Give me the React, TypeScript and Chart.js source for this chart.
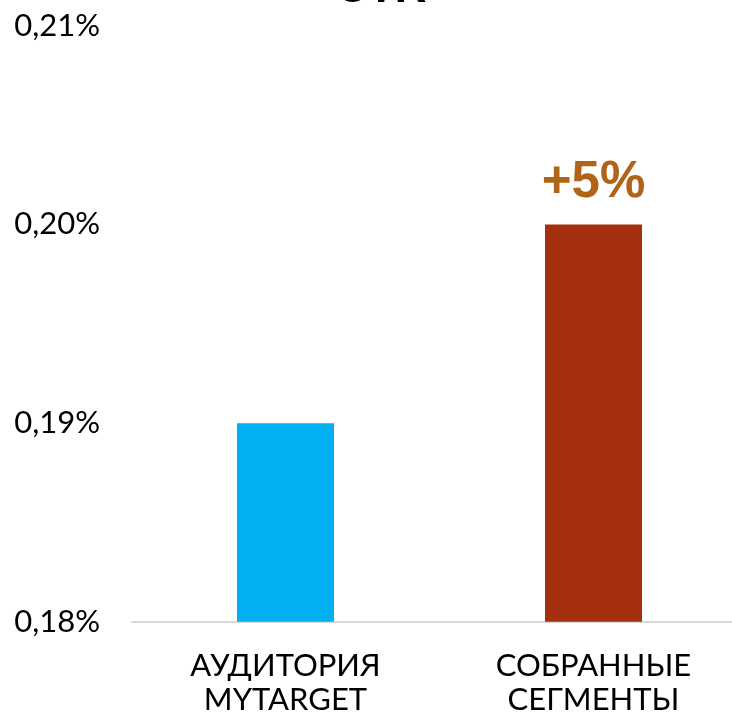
import React, { useEffect, useRef } from "react";
import { Chart, registerables } from "chart.js";

Chart.register(...registerables);

const categories: string[][] = [
  ["АУДИТОРИЯ", "MYTARGET"],
  ["СОБРАННЫЕ", "СЕГМЕНТЫ"],
];
const ctrValues: number[] = [0.19, 0.2];
const barColors: string[] = ["#00B0F0", "#A5300F"];
const barAnnotations: string[] = ["", "+5%"];
const yTickValues: number[] = [0.18, 0.19, 0.2, 0.21];
const titleText = "CTR";

const annotationPlugin = {
  id: "barAnnotations",
  afterDatasetsDraw(chart: any) {
    const meta = chart.getDatasetMeta(0);
    const ctx = chart.ctx;
    ctx.save();
    ctx.font = "bold 51px 'Liberation Sans', Arial, sans-serif";
    ctx.fillStyle = "#AF6418";
    ctx.textAlign = "center";
    ctx.textBaseline = "alphabetic";
    meta.data.forEach((el: any, i: number) => {
      const t = barAnnotations[i];
      if (t) ctx.fillText(t, el.x, el.y - 27);
    });
    ctx.restore();
  },
};

export default function App() {
  const ref = useRef<HTMLCanvasElement | null>(null);

  useEffect(() => {
    document.documentElement.style.overflow = "hidden";
    document.body.style.overflow = "hidden";
    const canvas = ref.current;
    if (!canvas) return;
    const chart = new Chart(canvas, {
      type: "bar",
      data: {
        labels: categories,
        datasets: [
          {
            data: ctrValues,
            backgroundColor: barColors,
            borderWidth: 0,
            barPercentage: 0.315,
            categoryPercentage: 1,
          },
        ],
      },
      options: {
        responsive: false,
        animation: false,
        layout: { padding: { left: 15, right: 54.5, top: 0, bottom: -28 } },
        plugins: {
          legend: { display: false },
          tooltip: { enabled: false },
          title: {
            display: true,
            text: titleText,
            color: "#000000",
            font: { family: "'Liberation Sans', Arial, sans-serif", size: 44, weight: "bold", lineHeight: 1.2 },
            padding: { top: 0, bottom: 10 },
          },
        },
        scales: {
          x: {
            grid: { display: false, drawTicks: false },
            border: { display: true, color: "#D9D9D9", width: 2 },
            ticks: {
              color: "#000000",
              padding: 27,
              maxRotation: 0,
              autoSkip: false,
              font: { family: "Lato, 'Noto Sans', sans-serif", size: 31, lineHeight: 1.1 },
            },
          },
          y: {
            min: 0.18,
            max: 0.21,
            grid: { display: false, drawTicks: false },
            border: { display: false },
            afterBuildTicks: (scale: any) => {
              scale.ticks = yTickValues.map((v) => ({ value: v }));
            },
            afterFit: (scale: any) => {
              scale.width = 116.5;
            },
            ticks: {
              color: "#000000",
              padding: 31.5,
              font: { family: "Lato, 'Noto Sans', sans-serif", size: 31 },
              callback: (v: any) => Number(v).toFixed(2).replace(".", ",") + "%",
            },
          },
        },
      },
      plugins: [annotationPlugin],
    });
    return () => chart.destroy();
  }, []);

  return (
    <div style={{ position: "absolute", left: 0, top: -37, width: 802, height: 753 }}>
      <canvas ref={ref} width={802} height={753} />
    </div>
  );
}
